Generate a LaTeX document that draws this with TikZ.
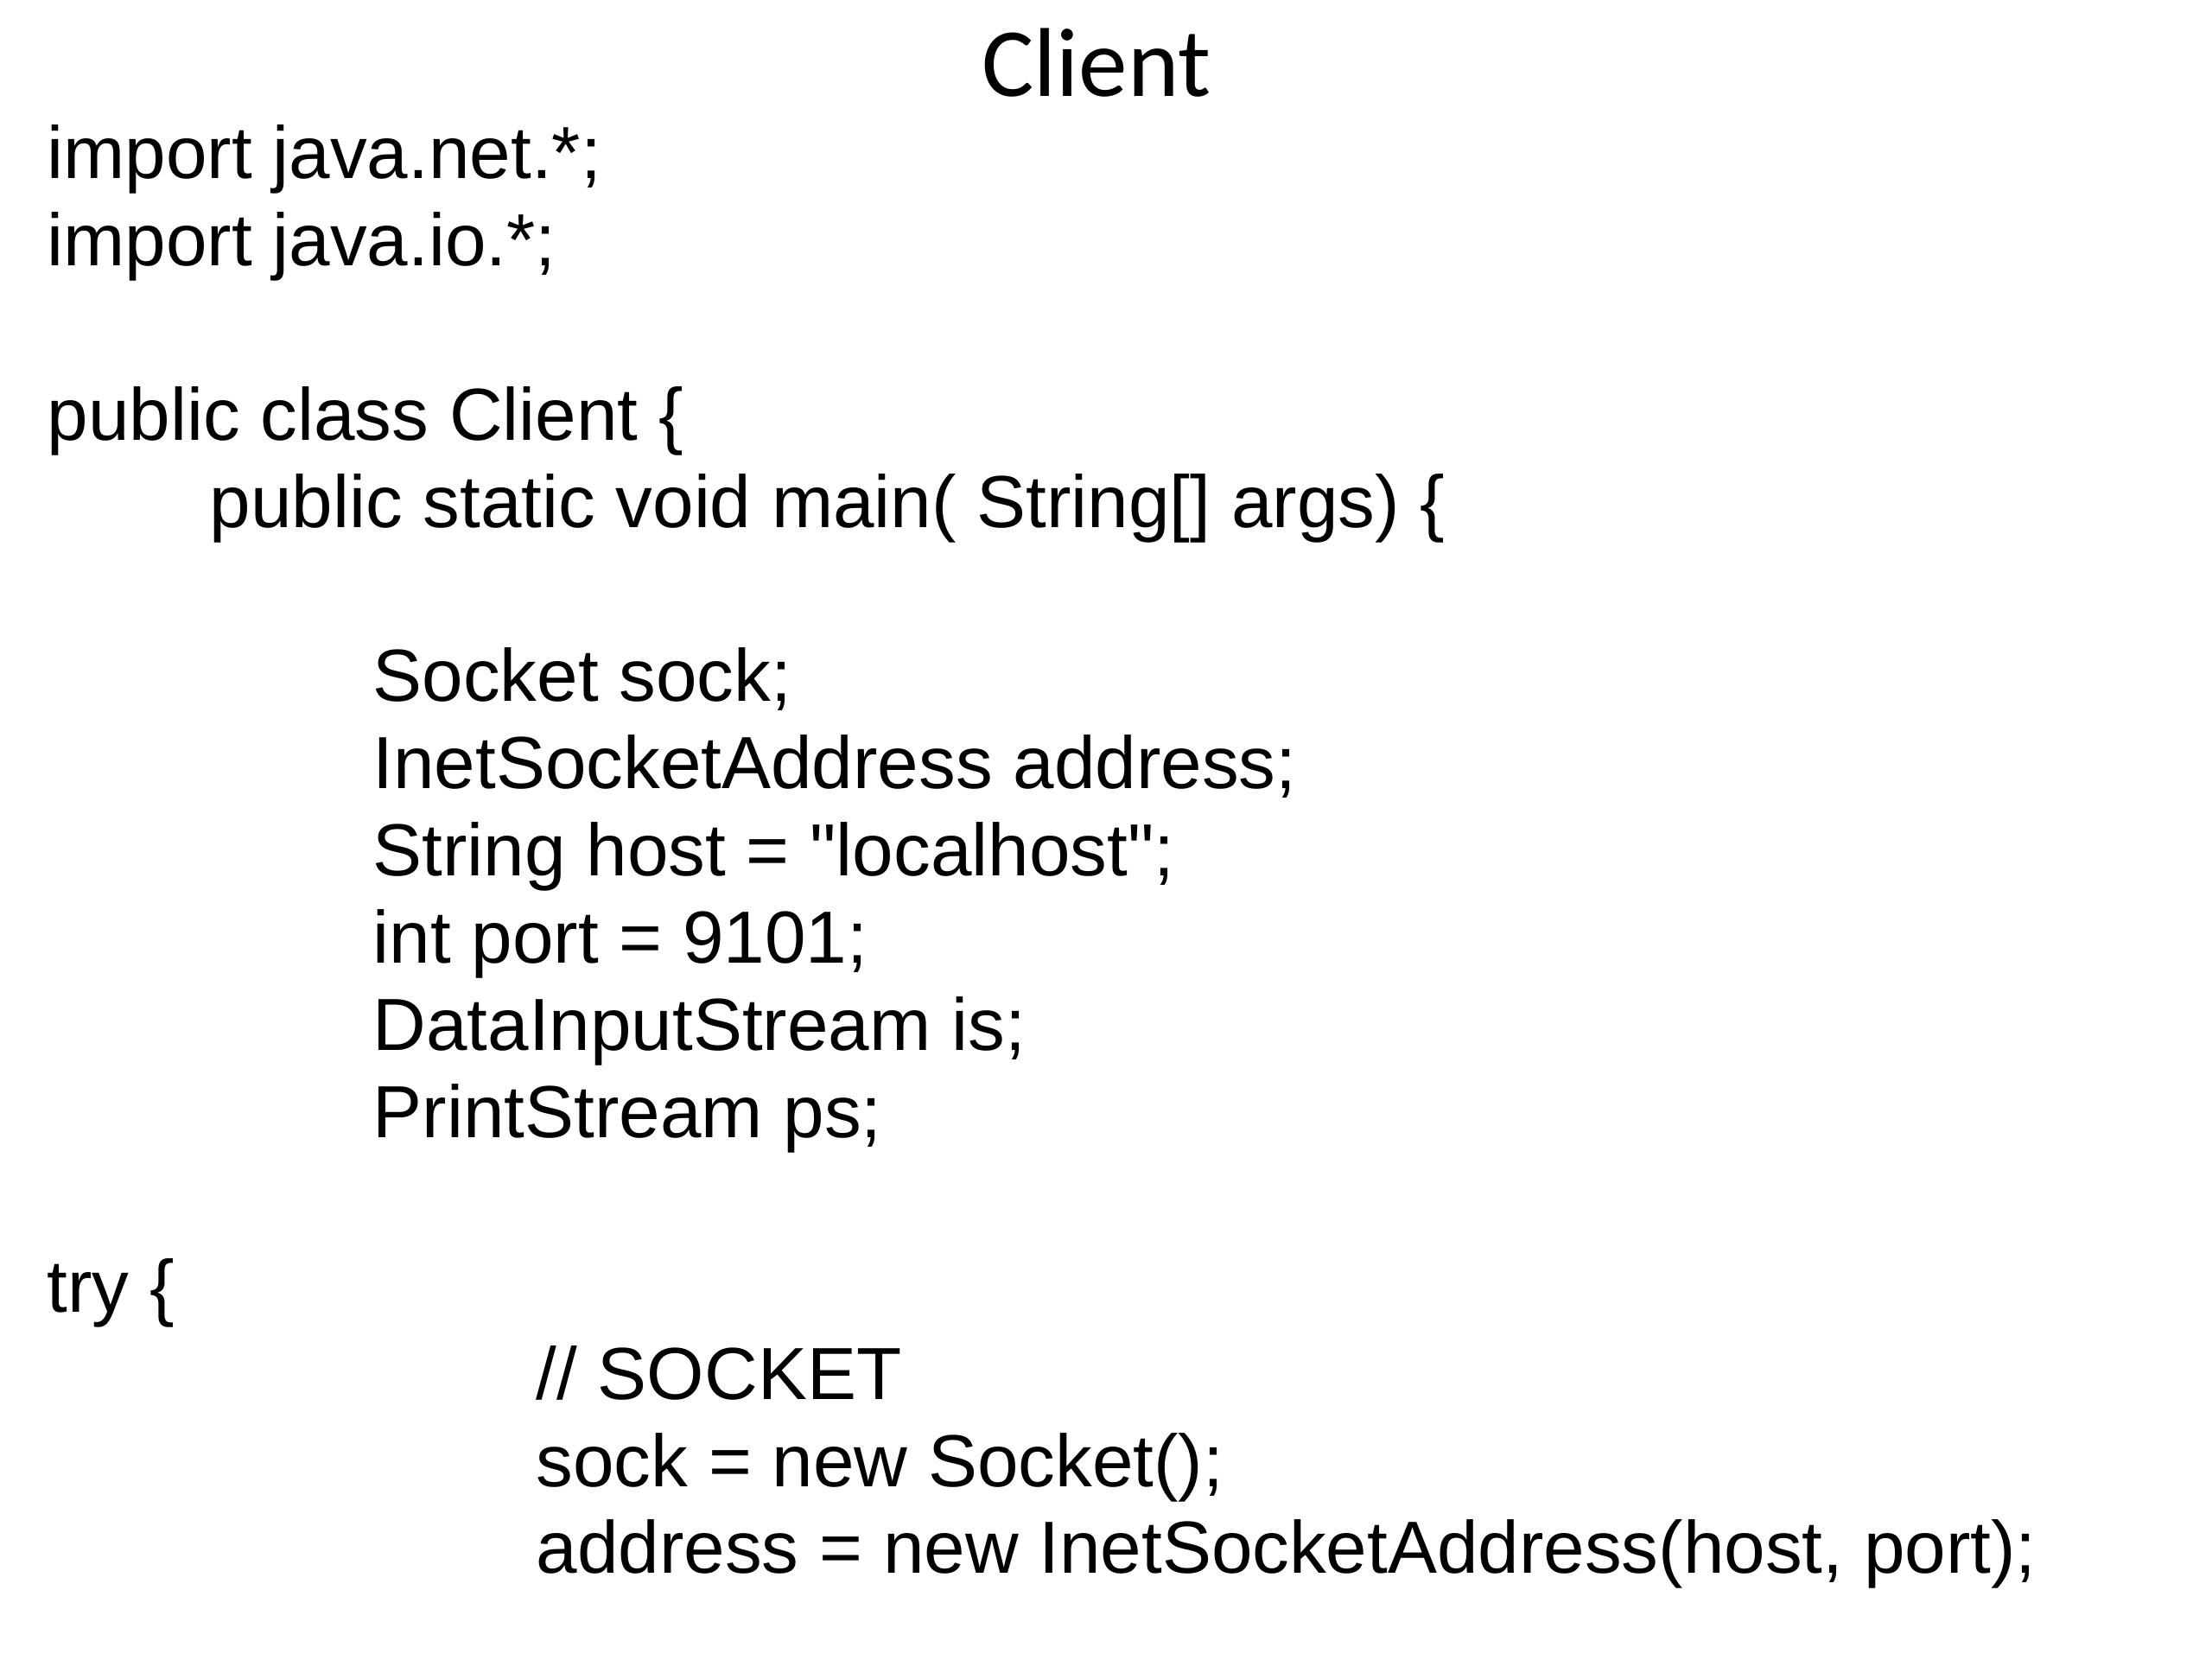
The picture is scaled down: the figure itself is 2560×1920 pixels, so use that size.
\documentclass[tikz,border=0pt]{standalone}
\usepackage{fontspec}
\setmainfont{Liberation Sans}[Ligatures=TeXOff]
\newfontfamily\ttlfont{Carlito}
\usepackage{tikz}
\tikzset{%
    codeln/.style={anchor=base west,inner sep=0pt,font=\fontsize{24.3}{29}\selectfont}
}

\begin{document}
\begin{tikzpicture}[
                x=0.01cm, y=-0.01cm,
                ttl/.style={anchor=base,inner sep=0pt,font=\ttlfont\fontsize{32.2}{38}\selectfont}
            ]
            \useasboundingbox (0,0) rectangle (2560,1920);
            \node[ttl] (title) at (1269,111) {Client};

            \node[codeln] (imp1) at (54,206) {import java.net.*;};
            \node[codeln] (imp2) at (54,307) {import java.io.*;};
            \node[codeln] (cls) at (54,509) {public class Client \{};
            \node[codeln] (mainm) at (242,610) {public static void main( String[] args) \{};

            \node[codeln] (sock) at (431,811) {Socket sock;};
            \node[codeln] (addr) at (431,912) {InetSocketAddress address;};
            \node[codeln] (host) at (431,1013) {String host = "localhost";};
            \node[codeln] (port) at (431,1114) {int port = 9101;};
            \node[codeln] (is) at (431,1215) {DataInputStream is;};
            \node[codeln] (ps) at (431,1316) {PrintStream ps;};

            \node[codeln] (try) at (54,1518) {try \{};
            \node[codeln] (cmt) at (620,1619) {// SOCKET};
            \node[codeln] (newsock) at (620,1720) {sock = new Socket();};
            \node[codeln] (newaddr) at (620,1820) {address = new InetSocketAddress(host, port);};
        \end{tikzpicture}
\end{document}
